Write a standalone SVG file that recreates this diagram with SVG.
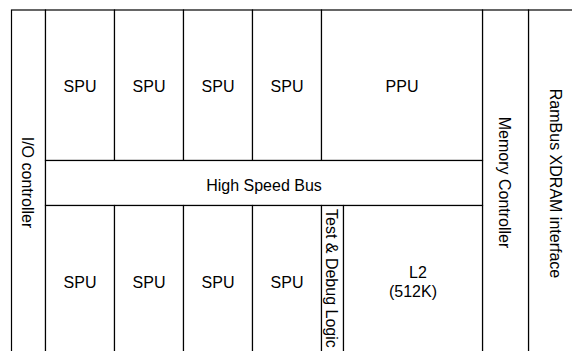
<svg xmlns="http://www.w3.org/2000/svg" width="572" height="351" viewBox="0 0 572 351">
<style>
.b{fill:#fff;stroke:#000;stroke-width:1.2}
.t{font-family:"Liberation Sans",Arial,sans-serif;font-size:16px;fill:#000;text-anchor:middle}
.v{font-family:"Liberation Sans",Arial,sans-serif;font-size:16px;fill:#000;text-anchor:middle;dominant-baseline:central}
</style>
<rect x="0" y="0" width="572" height="351" fill="#fff"/>
<g id="rambus"><rect class="b" x="528.5" y="10" width="80" height="360"/><text class="v" transform="translate(555,183.5) rotate(90)">RamBus XDRAM interface</text></g>
<g id="memctrl"><rect class="b" x="482.5" y="10" width="46" height="360"/><text class="v" transform="translate(504,182.5) rotate(90)">Memory Controller</text></g>
<g id="io"><rect class="b" x="11.5" y="10" width="34" height="360"/><text class="v" transform="translate(27,182.5) rotate(90)">I/O controller</text></g>
<g id="spu1"><rect class="b" x="45.5" y="10" width="69" height="150.5"/><text class="t" x="80" y="92">SPU</text></g>
<g id="spu2"><rect class="b" x="114.5" y="10" width="69" height="150.5"/><text class="t" x="149" y="92">SPU</text></g>
<g id="spu3"><rect class="b" x="183.5" y="10" width="69" height="150.5"/><text class="t" x="218" y="92">SPU</text></g>
<g id="spu4"><rect class="b" x="252.5" y="10" width="69" height="150.5"/><text class="t" x="287" y="92">SPU</text></g>
<g id="ppu"><rect class="b" x="321.5" y="10" width="161" height="150.5"/><text class="t" x="402" y="92">PPU</text></g>
<g id="bus"><rect class="b" x="45.5" y="160.5" width="437" height="45"/><text class="t" x="264" y="190.5">High Speed Bus</text></g>
<g id="spu5"><rect class="b" x="45.5" y="205.5" width="69" height="160"/><text class="t" x="80" y="287.5">SPU</text></g>
<g id="spu6"><rect class="b" x="114.5" y="205.5" width="69" height="160"/><text class="t" x="149" y="287.5">SPU</text></g>
<g id="spu7"><rect class="b" x="183.5" y="205.5" width="69" height="160"/><text class="t" x="218" y="287.5">SPU</text></g>
<g id="spu8"><rect class="b" x="252.5" y="205.5" width="69" height="160"/><text class="t" x="287" y="287.5">SPU</text></g>
<g id="test"><rect class="b" x="321.5" y="205.5" width="22" height="160"/><text class="v" x="0" y="0" style="text-anchor:start" transform="translate(331,209) rotate(90)">Test &amp; Debug Logic</text></g>
<g id="l2"><rect class="b" x="343.5" y="205.5" width="139" height="160"/><text class="t" x="418" y="277.5">L2</text><text class="t" x="413" y="297">(512K)</text></g>
<g id="connectors"/>
</svg>
